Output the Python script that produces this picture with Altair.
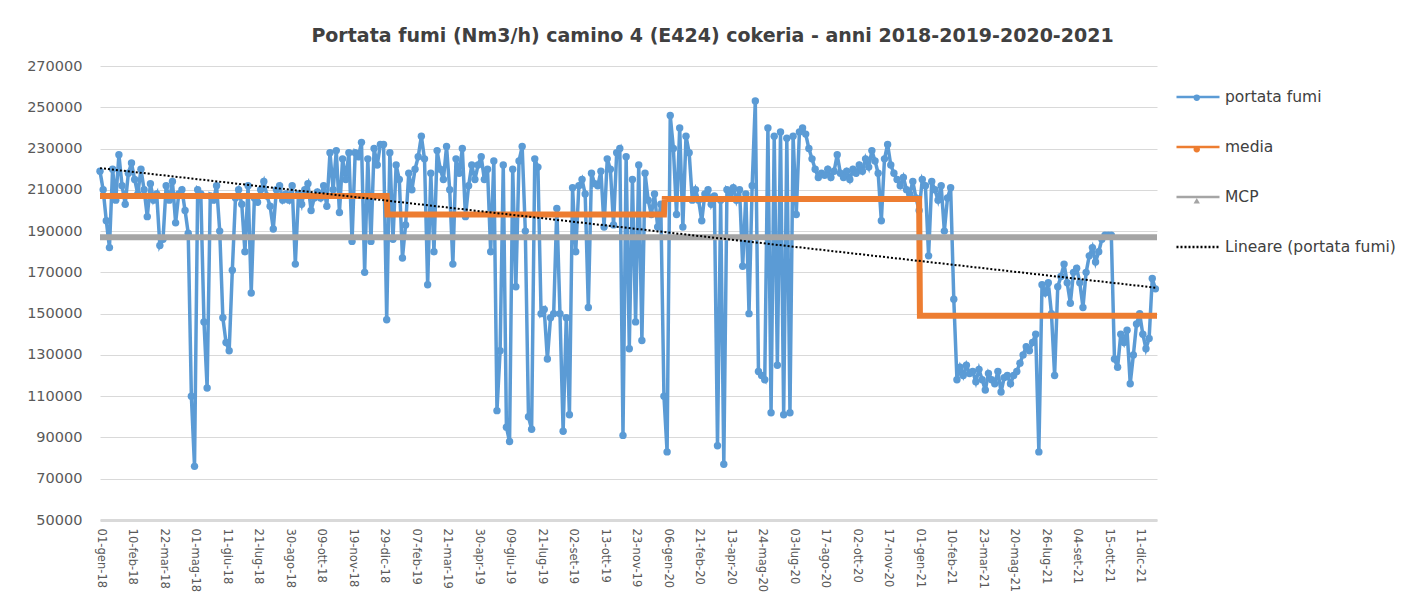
import json
import altair as alt
import pandas as pd

# ---------------- data ----------------
tick_labels = [
    "01-gen-18", "10-feb-18", "22-mar-18", "01-mag-18", "11-giu-18", "21-lug-18",
    "30-ago-18", "09-ott-18", "19-nov-18", "29-dic-18", "07-feb-19", "21-mar-19",
    "30-apr-19", "09-giu-19", "21-lug-19", "02-set-19", "13-ott-19", "23-nov-19",
    "06-gen-20", "21-feb-20", "13-apr-20", "24-mag-20", "03-lug-20", "17-ago-20",
    "02-ott-20", "17-nov-20", "01-gen-21", "10-feb-21", "23-mar-21", "20-mag-21",
    "26-lug-21", "04-set-21", "15-ott-21", "11-dic-21",
]
tick_step = 40          # one label every 40 data points
n_points = 1342         # index of the last data point

# portata fumi, thousands of Nm3/h, one value every 4 data points
portata_step = 4
portata_k = [
    219, 210, 195, 182, 220, 205, 227, 212, 203, 218,
    223, 215, 208, 220, 210, 197, 213, 205, 208, 183,
    186, 212, 205, 214, 194, 208, 210, 200, 189, 110,
    76, 210, 208, 146, 114, 207, 205, 212, 190, 148,
    136, 132, 171, 206, 210, 203, 180, 212, 160, 206,
    204, 210, 214, 207, 202, 191, 210, 212, 205, 208,
    205, 212, 174, 208, 203, 210, 213, 200, 206, 209,
    206, 212, 202, 228, 210, 229, 199, 225, 215, 228,
    185, 228, 226, 233, 170, 225, 185, 230, 222, 232,
    232, 147, 228, 186, 222, 215, 177, 193, 218, 210,
    220, 226, 236, 225, 164, 218, 180, 229, 220, 215,
    231, 210, 174, 225, 218, 230, 197, 212, 222, 215,
    222, 226, 215, 220, 180, 224, 103, 132, 222, 95,
    88, 220, 163, 224, 231, 190, 100, 94, 225, 221,
    150, 152, 128, 148, 150, 201, 150, 93, 148, 101,
    211, 180, 212, 215, 208, 153, 218, 213, 212, 219,
    192, 225, 220, 193, 228, 230, 91, 226, 133, 215,
    146, 222, 137, 218, 205, 198, 208, 192, 203, 110,
    83, 246, 230, 198, 240, 192, 236, 228, 205, 210,
    205, 195, 208, 210, 203, 207, 86, 205, 77, 210,
    208, 211, 205, 210, 173, 208, 150, 212, 253, 122,
    120, 118, 240, 102, 236, 125, 238, 101, 235, 102,
    236, 198, 238, 240, 237, 230, 225, 220, 216, 218,
    217, 220, 216, 219, 227, 218, 216, 219, 215, 220,
    218, 222, 219, 225, 221, 229, 224, 218, 195, 225,
    232, 222, 218, 215, 212, 216, 210, 208, 214, 206,
    200, 215, 212, 178, 214, 210, 205, 212, 190, 206,
    211, 157, 118, 124, 120, 125, 121, 122, 117, 123,
    118, 113, 121, 118, 116, 122, 112, 119, 120, 116,
    120, 122, 126, 130, 134, 132, 136, 140, 83, 164,
    160, 165, 150, 120, 163, 168, 174, 165, 155, 170,
    172, 165, 153, 170, 178, 182, 175, 180, 186, 188,
    188, 188, 128, 124, 140, 136, 142, 116, 130, 145,
    150, 140, 133, 138, 167, 162,
]

# yearly mean (step line)
media_idx = [0, 364, 365, 716, 717, 1040, 1041, 1342]
media_val = [207000, 207000, 198000, 198000, 205500, 205500, 149000, 149000]

# MCP constant line
mcp_idx = [0, 1342]
mcp_val = [187000, 187000]

# linear trend of portata fumi (end points)
trend_idx = [0, 1342]
trend_val = [220500, 162500]

series_names = ["portata fumi", "media", "MCP", "Lineare (portata fumi)"]
series_colors = ["#5B9BD5", "#ED7D31", "#A5A5A5", "#000000"]
series_dash = [[1, 0], [1, 0], [1, 0], [2, 2]]
marker_keys = ["m_portata", "m_media", "m_mcp", "m_lineare"]
marker_shapes = ["circle", "circle", "triangle-up", "circle"]
marker_fills = ["#5B9BD5", "#ED7D31", "#A5A5A5", "transparent"]

y_ticks = list(range(50000, 270001, 20000))

# ---------------- tables ----------------
df_p = pd.DataFrame({
    "idx": [i * portata_step for i in range(len(portata_k))],
    "val": [v * 1000 for v in portata_k],
    "series": series_names[0],
    "marker": marker_keys[0],
})
df_m = pd.DataFrame({"idx": media_idx, "val": media_val, "series": series_names[1]})
df_c = pd.DataFrame({"idx": mcp_idx, "val": mcp_val, "series": series_names[2]})
df_t = pd.DataFrame({"idx": trend_idx, "val": trend_val, "series": series_names[3]})

FONT = "DejaVu Sans"
label_expr = json.dumps(tick_labels) + "[round(datum.value / %d)]" % tick_step

x = alt.X(
    "idx:Q",
    title=None,
    scale=alt.Scale(domain=[0, n_points], nice=False, zero=False),
    axis=alt.Axis(
        values=list(range(0, tick_step * len(tick_labels), tick_step)),
        labelExpr=label_expr,
        labelAngle=90,
        labelAlign="left",
        labelBaseline="middle",
        labelPadding=8,
        labelFontSize=11.6,
        labelOverlap=False,
        labelFlush=False,
        grid=False,
        ticks=False,
        domain=True,
        domainColor="#D9D9D9",
        domainWidth=3,
    ),
)
y = alt.Y(
    "val:Q",
    title=None,
    scale=alt.Scale(domain=[50000, 270000], nice=False, zero=False),
    axis=alt.Axis(
        values=y_ticks,
        format="d",
        grid=True,
        gridColor="#D9D9D9",
        gridWidth=1,
        domain=False,
        ticks=False,
        labelPadding=18,
        labelFontSize=14.5,
    ),
)
legend_lines = alt.Legend(
    title=None,
    orient="none",
    legendX=1075,
    legendY=8,
    direction="vertical",
    symbolType="stroke",
    symbolSize=1850,
    symbolStrokeWidth=2.5,
    labelFontSize=15.5,
    labelFont=FONT,
    labelColor="#404040",
    labelOffset=4,
    labelLimit=400,
    rowPadding=18,
)
legend_marks = alt.Legend(
    title=None,
    orient="none",
    legendX=1089,
    legendY=24,
    direction="vertical",
    symbolSize=40,
    symbolStrokeWidth=0,
    labelExpr="''",
    labelFontSize=15.5,
    labelFont=FONT,
    labelColor="transparent",
    labelOffset=4,
    rowPadding=34.5,
)
color = alt.Color("series:N", scale=alt.Scale(domain=series_names, range=series_colors), legend=legend_lines)
dash = alt.StrokeDash("series:N", scale=alt.Scale(domain=series_names, range=series_dash), legend=legend_lines)
fill = alt.Fill("marker:N", scale=alt.Scale(domain=marker_keys, range=marker_fills), legend=legend_marks)
shape = alt.Shape("marker:N", scale=alt.Scale(domain=marker_keys, range=marker_shapes), legend=legend_marks)

blue = alt.Chart(df_p).mark_line(strokeWidth=3.5).encode(x=x, y=y, color=color, strokeDash=dash)
blue_pts = alt.Chart(df_p).mark_point(filled=True, size=55, opacity=1, strokeWidth=0).encode(
    x=x, y=y, fill=fill, shape=shape
)
orange = alt.Chart(df_m).mark_line(strokeWidth=6).encode(x=x, y=y, color=color, strokeDash=dash)
grey = alt.Chart(df_c).mark_line(strokeWidth=6).encode(x=x, y=y, color=color, strokeDash=dash)
trend = alt.Chart(df_t).mark_line(strokeWidth=2).encode(x=x, y=y, color=color, strokeDash=dash)

chart = alt.layer(blue, blue_pts, orange, grey, trend).properties(
    width=1057,
    height=454,
    autosize=alt.AutoSizeParams(type="none"),
    padding={"left": 92, "top": 58, "right": 242, "bottom": 73},
    title=alt.TitleParams(
        "Portata fumi (Nm3/h) camino 4 (E424) cokeria - anni 2018-2019-2020-2021",
        anchor="middle",
        dx=84,
        offset=12,
        fontSize=19,
        fontWeight="bold",
        font=FONT,
        color="#404040",
    ),
).configure_view(stroke=None).configure_axis(
    labelFont=FONT, labelColor="#595959"
)

chart.save("out.html", embed_options={"renderer": "svg", "actions": False})
